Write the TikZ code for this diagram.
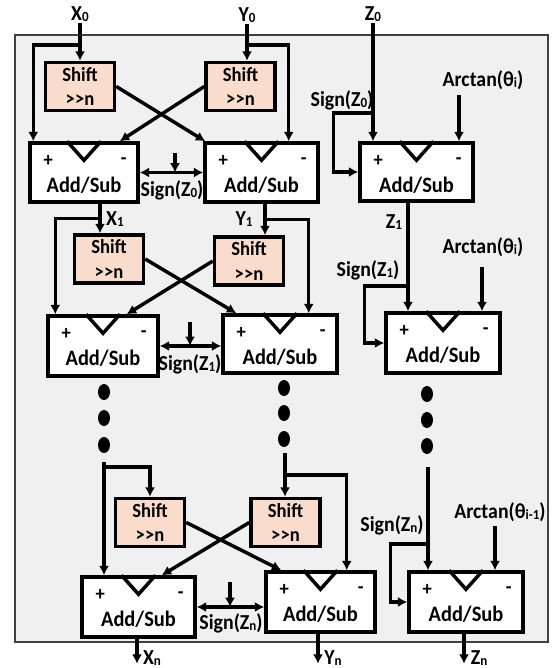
\documentclass[tikz,border=0pt]{standalone}
\usepackage{fontspec}
\setmainfont{Carlito}[FakeStretch=0.93]
\usetikzlibrary{calc,arrows.meta}
\definecolor{bgc}{HTML}{F0F0F0}
\definecolor{shc}{HTML}{F9DCCB}
\newcommand\sbt[1]{\raisebox{-0.15ex}{\fontsize{10.5}{10}\selectfont #1}}
\newcommand\shr{>\kern0pt>\kern0pt n}
\newcommand\addsub[5]{%
  \node[asbox,minimum width={#4*0.75pt},minimum height={#5*0.75pt}] (#1) at (#2,#3) {};
  \draw[wire] ($(#1.north)+(-17,0)$) -- ($(#1.north)+(0,19)$) -- ($(#1.north)+(17,0)$);
  \node[pm] at ($(#1.north west)+(20,20)$) {+};
  \node[pm] at ($(#1.north east)+(-16,20)$) {-};
  \node[ast] at ($(#1.north)+(0,44)$) {Add/Sub};
}
\tikzset{
  wire/.style={line width=2.6pt},
  arr/.style={wire,-{Latex[length=7pt,width=7.5pt]}},
  dbl/.style={wire,{Latex[length=7pt,width=7.5pt]}-{Latex[length=7pt,width=7.5pt]}},
  asbox/.style={draw,line width=2.6pt,fill=white,inner sep=0pt},
  shbox/.style={draw,line width=2.6pt,fill=shc,inner sep=0pt,align=center,
    minimum width={69*0.75pt},minimum height={48*0.75pt},
    font=\bfseries\fontsize{15}{18.5}\selectfont},
  lbl/.style={font=\bfseries\fontsize{16}{17}\selectfont,inner sep=1pt},
  pm/.style={font=\bfseries\fontsize{15}{16}\selectfont,inner sep=0pt},
  ast/.style={font=\bfseries\fontsize{16.5}{17}\selectfont,inner sep=0pt},
}
\begin{document}
\begin{tikzpicture}[x=0.75pt,y=-0.75pt]
\useasboundingbox (0,0) rectangle (557,668);
\draw[fill=bgc,draw=black!75,line width=1.1pt] (15,35) rectangle (548,642);

% ---------- stage 1 ----------
\node[shbox] (S1) at (80,86.5) {Shift\\\shr};
\node[shbox] (S2) at (240.5,86.5) {Shift\\\shr};
\addsub{A1}{84}{172.5}{108}{59}
\addsub{A2}{261.5}{172.5}{113}{59}
\addsub{AZ1}{416.5}{172}{113}{58}

\node[lbl] (x0) at (80,14) {X\sbt{0}};
\node[lbl] (y0) at (247,15) {Y\sbt{0}};
\node[lbl] (z0) at (373,14) {Z\sbt{0}};

\draw[arr] (x0.south) -- (x0.south |- S1.north);
\coordinate (bx0) at (80,45);
\draw[arr] (bx0) -| ($(A1.north west)+(5,0)$);
\draw[arr] (y0.south) -- (y0.south |- S2.north);
\coordinate (by0) at (247,45);
\draw[arr] (by0) -| ($(A2.north east)+(-31,0)$);
\draw[arr] (S1.east) -- ($(A2.north west)+(2,0)$);
\draw[arr] (S2.west) -- ($(A1.north east)+(-20,0)$);
\draw[dbl] (A1.east) -- (A2.west);
\coordinate (sg0) at (175,153);
\draw[arr] (sg0) -- (sg0 |- A1.east);
\node[lbl] (sl0) at (172,190) {Sign(Z\sbt{0})};

\draw[arr] (z0.south) -- (z0.south |- AZ1.north);
\coordinate (zs0) at (373,113);
\draw[arr] (zs0) -| ($(AZ1.west)+(-25,0)$) -- (AZ1.west);
\node[lbl] (zl0) at (342,100) {Sign(Z\sbt{0})};
\node[lbl] (at1l) at (483,80) {Arctan(θ\sbt{i})};
\coordinate (at1) at (459,95);
\draw[arr] (at1) -- (at1 |- AZ1.north);

% ---------- stage 2 ----------
\node[shbox] (S3) at (109,259) {Shift\\\shr};
\node[shbox] (S4) at (249,261) {Shift\\\shr};
\addsub{A3}{103}{346}{110}{60}
\addsub{A4}{280}{344}{114}{58}
\addsub{AZ2}{443}{343}{114}{60}

\coordinate (o1) at ($(A1.south)+(16,0)$);
\draw[arr] (o1) -- (o1 |- S3.north);
\coordinate (bx1) at ($(o1)+(0,15)$);
\draw[arr] (bx1) -| ($(A3.north west)+(9,0)$);
\node[lbl] (x1) at (115,219) {X\sbt{1}};
\coordinate (o2) at ($(A2.south)+(3.5,0)$);
\draw[arr] (o2) -- (o2 |- S4.north);
\coordinate (by1) at ($(o2)+(0,16)$);
\draw[arr] (by1) -| ($(A4.north east)+(-30,0)$);
\node[lbl] (y1) at (244,219) {Y\sbt{1}};
\draw[arr] (S3.east) -- ($(A4.north west)+(15,0)$);
\draw[arr] (S4.west) -- ($(A3.north east)+(-33,0)$);
\draw[dbl] (A3.east) -- (A3.east -| A4.west);
\coordinate (sg1) at (190,322);
\draw[arr] (sg1) -- (sg1 |- A3.east);
\node[lbl] (sl1) at (190,364) {Sign(Z\sbt{1})};

\coordinate (zo1) at ($(AZ1.south)+(-8.5,0)$);
\draw[arr] (zo1) -- (zo1 |- AZ2.north);
\node[lbl] (z1) at (394,222) {Z\sbt{1}};
\coordinate (zs1) at (408,286);
\draw[arr] (zs1) -| ($(AZ2.west)+(-20,0)$) -- (AZ2.west);
\node[lbl] (zl1) at (368,270) {Sign(Z\sbt{1})};
\node[lbl] (at2l) at (483,247) {Arctan(θ\sbt{i})};
\coordinate (at2) at (482,267);
\draw[arr] (at2) -- (at2 |- AZ2.north);

% ---------- dots ----------
\foreach \yy in {392,418,445} \fill (104,\yy) ellipse [x radius=6, y radius=8];
\foreach \yy in {388,413,439} \fill (284,\yy) ellipse [x radius=6, y radius=8];
\foreach \yy in {394,420,446} \fill (427,\yy) ellipse [x radius=6, y radius=8];

% ---------- stage n ----------
\node[shbox] (S5) at (150,522.5) {Shift\\\shr};
\node[shbox] (S6) at (285.5,522.5) {Shift\\\shr};
\addsub{A5}{138.5}{607}{113}{60}
\addsub{A6}{320.5}{602}{109}{60}
\addsub{AZn}{466}{602}{114}{60}

\coordinate (ln) at (104,462);
\draw[arr] (ln) -- (ln |- A5.north);
\coordinate (bxn) at (104,467);
\draw[arr] (bxn) -| (S5.north);
\coordinate (mn) at (285,453);
\draw[arr] (mn) -- (mn |- S6.north);
\coordinate (byn) at (285,475);
\draw[arr] (byn) -| ($(A6.north east)+(-30,0)$);
\draw[arr] (S5.east) -- ($(A6.north west)+(17,0)$);
\draw[arr] (S6.west) -- ($(A5.north east)+(-35,0)$);
\draw[dbl] (A5.east) -- (A5.east -| A6.west);
\coordinate (sgn) at (230,582);
\draw[arr] (sgn) -- (sgn |- A5.east);
\node[lbl] (sln) at (231,623) {Sign(Z\sbt{n})};

\coordinate (zn) at (428,467);
\draw[arr] (zn) -- (zn |- AZn.north);
\coordinate (zsn) at (428,544);
\draw[arr] (zsn) -| ($(AZn.west)+(-17,0)$) -- (AZn.west);
\node[lbl] (zln) at (392,525) {Sign(Z\sbt{n})};
\node[lbl] (at3l) at (500,512) {Arctan(θ\sbt{i-1})};
\coordinate (at3) at (495,526);
\draw[arr] (at3) -- (at3 |- AZn.north);

% ---------- outputs ----------
\draw[arr] ($(A5.south)+(-1.5,0)$) -- ++(0,25);
\draw[arr] ($(A6.south)+(-2.5,0)$) -- ++(0,30);
\draw[arr] ($(AZn.south)+(-2,0)$) -- ++(0,30);
\node[lbl] (xn) at (152,658) {X\sbt{n}};
\node[lbl] (yn) at (333,658) {Y\sbt{n}};
\node[lbl] (znl) at (479,658) {Z\sbt{n}};
\end{tikzpicture}
\end{document}
